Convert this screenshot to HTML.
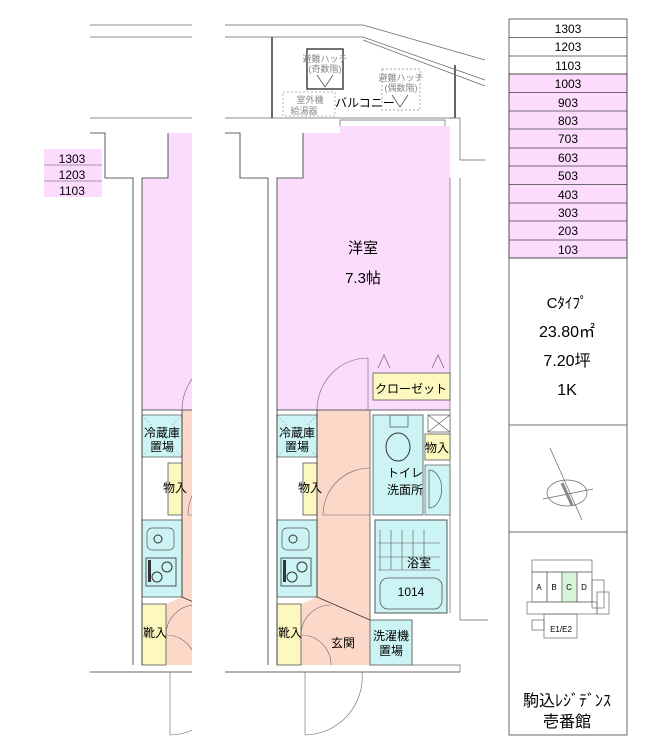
<!DOCTYPE html>
<html><head><meta charset="utf-8"><style>
body{margin:0;background:#fff;width:650px;height:737px;overflow:hidden;font-family:"Liberation Sans","Noto Sans CJK JP",sans-serif}
svg{position:absolute;left:0;top:0}
text{font-family:"Liberation Sans","Noto Sans CJK JP",sans-serif}
</style></head><body>
<svg width="650" height="737" viewBox="0 0 650 737">
<defs>
<g id="unit">
 <polygon points="277,178 303,178 303,133 340,133 340,126 450,126 450,410 277,410" fill="#fcdcfc"/>
 <polygon points="317,410 370,410 370,665 301,665 301,604 317,597" fill="#fcd8c8"/>
 <rect x="277" y="415" width="40" height="42" fill="#cdf4f4" stroke="#555" stroke-width="0.7"/>
 <line x1="277" y1="415" x2="317" y2="457" stroke="#999" stroke-dasharray="2,2" stroke-width="0.6"/>
 <line x1="317" y1="415" x2="277" y2="457" stroke="#999" stroke-dasharray="2,2" stroke-width="0.6"/>
 <rect x="283" y="425" width="28" height="28" fill="#cdf4f4"/>
 <text x="297" y="437" font-size="12" text-anchor="middle">冷蔵庫</text>
 <text x="297" y="451" font-size="12" text-anchor="middle">置場</text>
 <rect x="303" y="463" width="14" height="52" fill="#fcf8c0" stroke="#555" stroke-width="0.8"/>
 <text x="310" y="492" font-size="12" text-anchor="middle">物入</text>
 <rect x="277" y="520" width="40" height="77" fill="#cdf4f4" stroke="#555" stroke-width="0.8"/>
 <rect x="282" y="528" width="27" height="22" rx="5" fill="none" stroke="#555" stroke-width="0.7"/>
 <circle cx="293" cy="539" r="4" fill="none" stroke="#333"/>
 <rect x="281" y="558" width="30" height="28" fill="none" stroke="#333" stroke-width="0.8"/>
 <circle cx="302" cy="567" r="5" fill="none" stroke="#333"/><circle cx="292" cy="577" r="5" fill="none" stroke="#333"/>
 <rect x="283" y="560" width="3" height="22" fill="#333"/>
 <rect x="277" y="604" width="24" height="61" fill="#fcf8c0" stroke="#555" stroke-width="0.8"/>
 <text x="290" y="637" font-size="12" text-anchor="middle">靴入</text>
 <g fill="none" stroke="#333" stroke-width="0.8">
  <polyline points="225,133 240,133 240,178 268,178 268,665"/>
  <polyline points="277,665 277,178 303,178 303,133"/>
  <line x1="317" y1="410" x2="317" y2="597"/>
  <line x1="277" y1="410" x2="450" y2="410"/>
  <line x1="317" y1="597" x2="370" y2="620"/>
  <line x1="225" y1="672" x2="460" y2="672"/>
 </g>
 <g fill="none" stroke="#666" stroke-width="0.6">
  <path d="M368,410 L368,358 A51,52 0 0 0 317,410"/>
  <path d="M370,468 A47,47 0 0 0 323,515 L370,515"/>
  <path d="M301,635 A30,30 0 0 1 331,605"/>
  <path d="M301,635 A30,30 0 0 1 331,665"/>
  <path d="M305,672 L305,735 A58,58 0 0 0 362,672"/>
 </g>
</g>
</defs>

<svg x="0" y="0" width="192" height="737" viewBox="135 0 192 737" overflow="hidden"><use href="#unit"/>
 <g fill="none" stroke="#666" stroke-width="0.7"><line x1="225" y1="25" x2="400" y2="25"/><line x1="225" y1="37" x2="400" y2="37"/><line x1="225" y1="118" x2="400" y2="118"/></g>
</svg>
<g font-size="12" text-anchor="middle">
 <rect x="44" y="149" width="58" height="48" fill="#fcdcfc"/>
 <line x1="44" y1="165" x2="102" y2="165" stroke="#555" stroke-width="0.6"/>
 <line x1="44" y1="181" x2="102" y2="181" stroke="#555" stroke-width="0.6"/>
 <text x="72" y="163">1303</text><text x="72" y="179">1203</text><text x="72" y="195">1103</text>
</g>

<use href="#unit"/>
<g fill="none" stroke="#666" stroke-width="0.7">
 <polyline points="225,25 363,25 485,60"/>
 <polyline points="225,37 363,37 485,80"/>
 <polyline points="363,40 485,86"/>
 <line x1="225" y1="118" x2="455" y2="118"/>
 <line x1="272" y1="37" x2="272" y2="118" stroke-width="2"/>
 <line x1="455" y1="65" x2="455" y2="118" stroke-width="2"/>
 <polyline points="340,126 340,120 445,120 445,126"/>
 <polyline points="450,118 460,118 460,160 485,160"/>
 <polyline points="460,178 460,620 488,620"/>
 <polyline points="450,178 450,613"/>
 <polyline points="412,620 412,665 460,665 460,672"/>
 <rect x="307" y="49" width="36" height="40" stroke="#444" stroke-width="1.5"/>
 <rect x="382" y="69" width="38" height="41" stroke="#888" stroke-dasharray="2,2"/>
 <rect x="283" y="92" width="52" height="24" stroke="#999" stroke-dasharray="2,2"/>
 <path d="M317,75 L325,87 L333,75 M392,95 L400,107 L408,95" stroke="#444"/>
</g>
<g font-size="9" fill="#888" text-anchor="middle">
 <text x="325" y="62">避難ハッチ</text><text x="325" y="72">(奇数階)</text>
 <text x="401" y="81">避難ハッチ</text><text x="401" y="91">(偶数階)</text>
 <text x="310" y="103">室外機</text><text x="304" y="114">給湯器</text>
</g>
<text x="335" y="107" font-size="12">バルコニー</text>
<text x="363" y="253" font-size="15" text-anchor="middle">洋室</text>
<text x="363" y="283" font-size="15" text-anchor="middle">7.3帖</text>
<rect x="373" y="373" width="77" height="27" fill="#fcf8c0" stroke="#555" stroke-width="0.8"/>
<text x="411" y="399" font-size="12" text-anchor="middle" dy="-6">クローゼット</text>
<path d="M378,368 L384,355 L390,368 M432,368 L438,355 L444,368" fill="none" stroke="#666" stroke-width="0.7"/>
<rect x="373" y="415" width="50" height="100" fill="#cdf4f4" stroke="#555" stroke-width="0.8"/>
<ellipse cx="398" cy="447" rx="12" ry="14" fill="none" stroke="#333"/>
<rect x="390" y="415" width="18" height="12" fill="none" stroke="#555" stroke-width="0.7"/>
<text x="405" y="477" font-size="12" text-anchor="middle">トイレ</text>
<text x="405" y="494" font-size="12" text-anchor="middle">洗面所</text>
<rect x="428" y="415" width="22" height="17" fill="#fff" stroke="#555" stroke-width="0.7"/>
<path d="M428,415 L450,432 M450,415 L428,432" stroke="#555" stroke-width="0.6"/>
<rect x="425" y="434" width="25" height="26" fill="#fcf8c0" stroke="#555" stroke-width="0.8"/>
<text x="437" y="452" font-size="12" text-anchor="middle">物入</text>
<rect x="425" y="465" width="25" height="50" fill="#cdf4f4" stroke="#555" stroke-width="0.7"/>
<path d="M429,470 A12,18 0 0 1 429,508 Z" fill="none" stroke="#555" stroke-width="0.7"/>
<rect x="375" y="520" width="72" height="93" fill="#cdf4f4" stroke="#555" stroke-width="1"/>
<g stroke="#555" stroke-width="0.6">
 <line x1="380" y1="530" x2="380" y2="570"/><line x1="391" y1="530" x2="391" y2="570"/><line x1="402" y1="530" x2="402" y2="570"/><line x1="413" y1="530" x2="413" y2="570"/><line x1="424" y1="530" x2="424" y2="570"/>
 <line x1="378" y1="543" x2="440" y2="543"/><line x1="378" y1="557" x2="440" y2="557"/><line x1="378" y1="570" x2="440" y2="570"/>
</g>
<rect x="380" y="578" width="62" height="31" rx="8" fill="none" stroke="#555" stroke-width="0.8"/>
<text x="419" y="567" font-size="12" text-anchor="middle">浴室</text>
<text x="411" y="596" font-size="12" text-anchor="middle">1014</text>
<rect x="370" y="620" width="42" height="45" fill="#cdf4f4" stroke="#555" stroke-width="0.8"/>
<text x="391" y="640" font-size="12" text-anchor="middle">洗濯機</text>
<text x="391" y="655" font-size="12" text-anchor="middle">置場</text>
<text x="343" y="647" font-size="12" text-anchor="middle">玄関</text>
<line x1="370" y1="410" x2="370" y2="620" stroke="#555" stroke-width="0.8"/>

<g stroke="#444" stroke-width="0.8" font-size="12" text-anchor="middle">
 <rect x="509" y="74" width="118" height="184" fill="#fcdcfc"/>
 <rect x="509" y="19" width="118" height="716" fill="none"/>
 <g fill="none">
  <line x1="509" y1="37.5" x2="627" y2="37.5"/><line x1="509" y1="56" x2="627" y2="56"/><line x1="509" y1="74" x2="627" y2="74"/>
  <line x1="509" y1="92.5" x2="627" y2="92.5"/><line x1="509" y1="111" x2="627" y2="111"/><line x1="509" y1="129" x2="627" y2="129"/>
  <line x1="509" y1="148" x2="627" y2="148"/><line x1="509" y1="166" x2="627" y2="166"/><line x1="509" y1="184.5" x2="627" y2="184.5"/>
  <line x1="509" y1="203" x2="627" y2="203"/><line x1="509" y1="221" x2="627" y2="221"/><line x1="509" y1="240" x2="627" y2="240"/>
  <line x1="509" y1="258" x2="627" y2="258"/><line x1="509" y1="425" x2="627" y2="425"/><line x1="509" y1="532" x2="627" y2="532"/>
 </g>
 <g stroke="none" fill="#000">
  <text x="568" y="33">1303</text><text x="568" y="51">1203</text><text x="568" y="70">1103</text><text x="568" y="88">1003</text>
  <text x="568" y="107">903</text><text x="568" y="125">803</text><text x="568" y="143">703</text><text x="568" y="162">603</text>
  <text x="568" y="180">503</text><text x="568" y="199">403</text><text x="568" y="217">303</text><text x="568" y="235">203</text><text x="568" y="254">103</text>
  <text x="567" y="308" font-size="15">Cﾀｲﾌﾟ</text>
  <text x="567" y="337" font-size="16">23.80㎡</text>
  <text x="567" y="366" font-size="16">7.20坪</text>
  <text x="567" y="395" font-size="16">1K</text>
  <text x="567" y="706" font-size="16">駒込ﾚｼﾞﾃﾞﾝｽ</text>
  <text x="567" y="727" font-size="16">壱番館</text>
 </g>
 <g fill="none" stroke="#666" stroke-width="0.7">
  <line x1="550" y1="448" x2="582" y2="520"/>
  <ellipse cx="567" cy="493" rx="20" ry="13"/>
  <line x1="543" y1="499" x2="593" y2="489"/>
  <line x1="562" y1="483" x2="572" y2="505" stroke="#888" stroke-width="3"/>
  <rect x="532" y="572" width="15" height="30"/><rect x="547" y="572" width="15" height="30"/>
  <rect x="562" y="572" width="15" height="30" fill="#d8f4d8"/><rect x="577" y="572" width="15" height="30"/>
  <rect x="532" y="560" width="60" height="12"/><rect x="527" y="602" width="70" height="12"/>
  <rect x="544" y="614" width="33" height="24"/><rect x="532" y="620" width="12" height="10"/>
  <rect x="592" y="580" width="12" height="28"/><rect x="597" y="592" width="12" height="22"/>
 </g>
 <g stroke="none" fill="#000" font-size="8">
  <text x="539" y="590">A</text><text x="554" y="590">B</text><text x="569" y="590">C</text><text x="584" y="590">D</text>
  <text x="561" y="632">E1/E2</text>
 </g>
</g>
</svg>
</body></html>
